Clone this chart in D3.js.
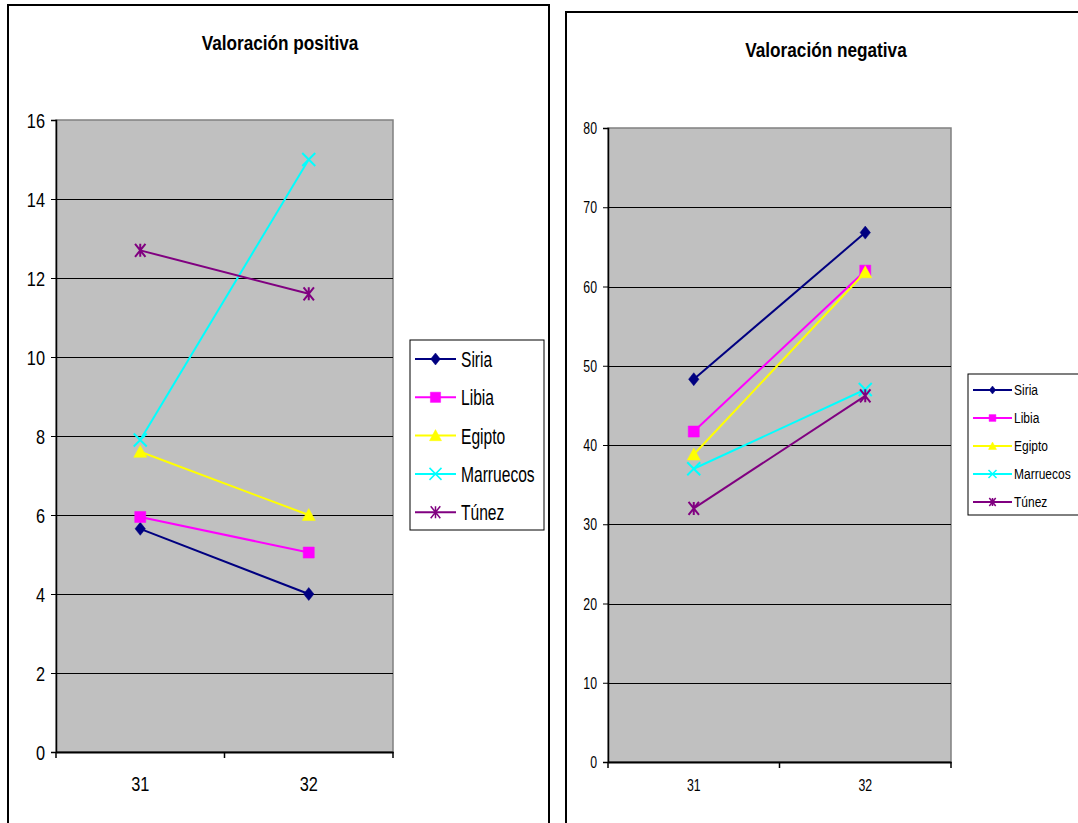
<!DOCTYPE html>
<html><head><meta charset="utf-8">
<script src="https://cdn.jsdelivr.net/npm/d3@7"></script>
<style>
body{margin:0;background:#fff}
svg{display:block}
text{font-family:"Liberation Sans Narrow","Arial Narrow","Liberation Sans",Arial,sans-serif;fill:#000}
</style>
</head><body>
<svg id="c" width="1078" height="823"></svg>
<script>
// ---- data ----
const categories = ["31", "32"];
const seriesNames = ["Siria", "Libia", "Egipto", "Marruecos", "Túnez"];
const seriesColors = ["#000080", "#ff00ff", "#ffff00", "#00ffff", "#800080"];
const seriesMarkers = ["diamond", "square", "triangle", "x", "star"];

const posSiria = [5.65, 4.0];
const posLibia = [5.95, 5.05];
const posEgipto = [7.6, 6.0];
const posMarruecos = [7.9, 15.0];
const posTunez = [12.7, 11.6];

const negSiria = [48.3, 66.8];
const negLibia = [41.7, 62.0];
const negEgipto = [38.8, 61.8];
const negMarruecos = [37.0, 47.0];
const negTunez = [32.0, 46.2];

const posTicks = [0, 2, 4, 6, 8, 10, 12, 14, 16];
const negTicks = [0, 10, 20, 30, 40, 50, 60, 70, 80];

const titlePos = "Valoración positiva";
const titleNeg = "Valoración negativa";

// ---- drawing ----
const svg = d3.select("#c");

function condense(sel, sx, sy) {
  sel.each(function () {
    const t = d3.select(this);
    const x = +t.attr("x") || 0, y = +t.attr("y") || 0;
    t.attr("transform", `translate(${x},${y}) scale(${sx},${sy}) translate(${-x},${-y})`);
  });
}

function markerPath(type, s) {
  const h = s / 2;
  switch (type) {
    case "diamond": return `M0,${-h}L${h*0.8},0L0,${h}L${-h*0.8},0Z`;
    case "square": return `M${-h*0.85},${-h*0.85}h${h*1.7}v${h*1.7}h${-h*1.7}Z`;
    case "triangle": return `M0,${-h}L${h},${h*0.85}L${-h},${h*0.85}Z`;
    case "x": return `M${-h},${-h}L${h},${h}M${-h},${h}L${h},${-h}`;
    case "star": return `M${-h*0.8},${-h}L${h*0.8},${h}M${-h*0.8},${h}L${h*0.8},${-h}M0,${-h}L0,${h}`;
  }
}
function drawMarker(g, type, color, x, y, s, sw) {
  const filled = type === "diamond" || type === "square" || type === "triangle";
  g.append("path")
    .attr("d", markerPath(type, s))
    .attr("transform", `translate(${x},${y})`)
    .attr("fill", filled ? color : "none")
    .attr("stroke", color)
    .attr("stroke-width", filled ? 0.5 : sw);
}

function drawChart(cfg) {
  const g = svg.append("g");
  // frame
  g.append("rect").attr("x", cfg.frame[0]).attr("y", cfg.frame[1])
    .attr("width", cfg.frame[2]).attr("height", cfg.frame[3])
    .attr("fill", "#fff").attr("stroke", "#000").attr("stroke-width", 2);
  // title
  g.append("text").attr("x", cfg.titleX).attr("y", cfg.titleY)
    .attr("text-anchor", "middle").attr("font-weight", "bold")
    .attr("font-size", cfg.titleSize).text(cfg.title)
    .call(condense, 0.86, 1.05);

  const x = d3.scaleBand().domain(categories).range([cfg.px0, cfg.px1]);
  const y = d3.scaleLinear().domain([cfg.ticks[0], cfg.ticks[cfg.ticks.length - 1]]).range([cfg.py1, cfg.py0]);

  // plot area
  g.append("rect").attr("x", cfg.px0).attr("y", cfg.py0)
    .attr("width", cfg.px1 - cfg.px0).attr("height", cfg.py1 - cfg.py0)
    .attr("fill", "#c0c0c0").attr("stroke", "#808080").attr("stroke-width", 1.5);

  // gridlines
  g.append("g").selectAll("line").data(cfg.ticks.slice(1, -1)).join("line")
    .attr("x1", cfg.px0).attr("x2", cfg.px1)
    .attr("y1", d => Math.round(y(d)) + 0.5).attr("y2", d => Math.round(y(d)) + 0.5)
    .attr("stroke", "#000").attr("stroke-width", 1);

  // y axis
  const ya = g.append("g").attr("transform", `translate(${cfg.px0},0)`)
    .call(d3.axisLeft(y).tickValues(cfg.ticks).tickSize(5).tickPadding(cfg.yPad).tickFormat(d3.format("d")));
  ya.select(".domain").attr("stroke", "#000").attr("stroke-width", 1.5);
  ya.selectAll(".tick line").attr("stroke", "#000");
  ya.selectAll("text").attr("font-size", cfg.tickSize).attr("font-family", null)
    .attr("dy", "0.36em").attr("fill", "#000").call(condense, cfg.tsx, cfg.tsy);

  // x axis
  const xa = g.append("g").attr("transform", `translate(0,${cfg.py1})`)
    .call(d3.axisBottom(x).tickSize(0).tickPadding(cfg.xPad));
  xa.select(".domain").attr("stroke", "#000").attr("stroke-width", 2);
  xa.selectAll("text").attr("font-size", cfg.tickSize).attr("font-family", null).attr("fill", "#000")
    .call(condense, cfg.tsx, cfg.tsy);
  const bounds = [cfg.px0, ...categories.map(c => x(c) + x.bandwidth())];
  xa.append("g").selectAll("line").data(bounds).join("line")
    .attr("x1", d => d).attr("x2", d => d).attr("y1", 0).attr("y2", 6)
    .attr("stroke", "#000").attr("stroke-width", 1.5);

  // series
  const line = d3.line().x((d, i) => x(categories[i]) + x.bandwidth() / 2).y(d => y(d));
  cfg.data.forEach((vals, si) => {
    g.append("path").attr("d", line(vals)).attr("fill", "none")
      .attr("stroke", seriesColors[si]).attr("stroke-width", 2);
  });
  cfg.data.forEach((vals, si) => {
    vals.forEach((v, i) => drawMarker(g, seriesMarkers[si], seriesColors[si],
      x(categories[i]) + x.bandwidth() / 2, y(v), cfg.mSize, 2));
  });

  // legend
  const L = cfg.legend;
  g.append("rect").attr("x", L.x).attr("y", L.y).attr("width", L.w).attr("height", L.h)
    .attr("fill", "#fff").attr("stroke", "#000").attr("stroke-width", 1);
  seriesNames.forEach((name, si) => {
    const ry = L.y0 + si * L.step;
    g.append("line").attr("x1", L.lx0).attr("x2", L.lx1).attr("y1", ry).attr("y2", ry)
      .attr("stroke", seriesColors[si]).attr("stroke-width", 2);
    drawMarker(g, seriesMarkers[si], seriesColors[si], (L.lx0 + L.lx1) / 2, ry, L.mSize, 1.5);
    g.append("text").attr("x", L.tx).attr("y", ry).attr("dy", "0.36em")
      .attr("font-size", L.fs).text(name).call(condense, L.sx, L.sy);
  });
}

drawChart({
  frame: [8, 5, 541, 830],
  title: titlePos, titleX: 280, titleY: 50, titleSize: 20,
  px0: 56, px1: 393, py0: 120, py1: 752,
  ticks: posTicks, tickSize: 19, tsx: 0.86, tsy: 1.1, yPad: 6, xPad: 24,
  data: [posSiria, posLibia, posEgipto, posMarruecos, posTunez],
  mSize: 13,
  legend: { x: 410, y: 340, w: 134, h: 190, y0: 359, step: 38.3, lx0: 415, lx1: 456, tx: 461, fs: 20, sx: 0.78, sy: 1.1, mSize: 12 }
});

drawChart({
  frame: [566, 12, 600, 830],
  title: titleNeg, titleX: 826, titleY: 57, titleSize: 20,
  px0: 608, px1: 951, py0: 128, py1: 762,
  ticks: negTicks, tickSize: 15, tsx: 0.82, tsy: 1.05, yPad: 6, xPad: 18,
  data: [negSiria, negLibia, negEgipto, negMarruecos, negTunez],
  mSize: 13,
  legend: { x: 968, y: 374, w: 112, h: 141, y0: 390, step: 28, lx0: 973, lx1: 1012, tx: 1014, fs: 15, sx: 0.8, sy: 1.0, mSize: 8 }
});
</script>
</body></html>
